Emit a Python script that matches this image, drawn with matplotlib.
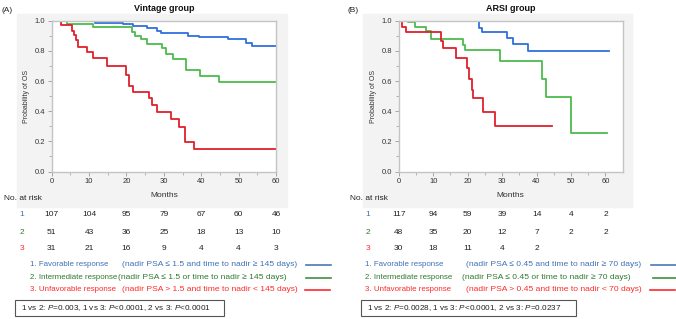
import matplotlib
matplotlib.use("Agg")
import matplotlib.pyplot as plt
from matplotlib.patches import Rectangle
from matplotlib.lines import Line2D
from matplotlib.transforms import blended_transform_factory

plt.rcParams["font.family"] = ["Liberation Sans", "DejaVu Sans"]
plt.rcParams["mathtext.fontset"] = "custom"
plt.rcParams["mathtext.rm"] = "Liberation Sans"
plt.rcParams["mathtext.it"] = "Liberation Sans:italic"

# ---- Kaplan-Meier step data ----
blue_A_t = [0, 8.5, 11.6, 19.2, 21.8, 25.4, 28.1, 29.2, 36.4, 39.5, 47.2, 52.0, 53.6, 60]
blue_A_s = [1.0, 0.995, 0.987, 0.976, 0.965, 0.95, 0.93, 0.916, 0.90, 0.89, 0.876, 0.85, 0.832, 0.832]
green_A_t = [0, 4.0, 11.0, 21.4, 22.2, 23.8, 25.4, 29.4, 30.7, 32.5, 35.8, 39.8, 44.8, 60]
green_A_s = [1.0, 0.98, 0.956, 0.927, 0.898, 0.876, 0.843, 0.816, 0.776, 0.744, 0.673, 0.633, 0.595, 0.595]
red_A_t = [0, 2.5, 5.3, 6.0, 6.5, 7.1, 9.4, 11.0, 14.9, 19.8, 20.8, 21.7, 26.0, 26.7, 28.1, 31.9, 34.0, 35.6, 38.0, 60]
red_A_s = [1.0, 0.97, 0.934, 0.905, 0.872, 0.828, 0.79, 0.75, 0.70, 0.64, 0.57, 0.53, 0.486, 0.442, 0.393, 0.347, 0.298, 0.198, 0.149, 0.149]

blue_B_t = [0, 16.4, 23.4, 24.2, 31.5, 33.1, 37.4, 60.9]
blue_B_s = [1.0, 0.995, 0.95, 0.923, 0.887, 0.848, 0.801, 0.801]
green_B_t = [0, 2.6, 4.8, 7.9, 9.4, 18.6, 19.3, 29.5, 41.5, 42.6, 50.0, 60.4]
green_B_s = [1.0, 0.99, 0.955, 0.932, 0.879, 0.84, 0.804, 0.733, 0.613, 0.494, 0.252, 0.252]
red_B_t = [0, 1.0, 2.1, 12.3, 12.8, 16.6, 19.7, 20.3, 21.2, 21.7, 24.4, 27.8, 44.4]
red_B_s = [1.0, 0.955, 0.923, 0.868, 0.817, 0.75, 0.685, 0.614, 0.541, 0.486, 0.397, 0.30, 0.30]

# ---- number at risk ----
risk_months = [0, 10, 20, 30, 40, 50, 60]
risk_A = [[107, 104, 95, 79, 67, 60, 46],
          [51, 43, 36, 25, 18, 13, 10],
          [31, 21, 16, 9, 4, 4, 3]]
risk_B = [[117, 94, 59, 39, 14, 4, 2],
          [48, 35, 20, 12, 7, 2, 2],
          [30, 18, 11, 4, 2]]

legend_A = [("1. Favorable response", "(nadir PSA \u2264 1.5 and time to nadir \u2265 145 days)"),
            ("2. Intermediate response", "(nadir PSA \u2264 1.5 or time to nadir \u2265 145 days)"),
            ("3. Unfavorable response", "(nadir PSA > 1.5 and time to nadir < 145 days)")]
legend_B = [("1. Favorable response", "(nadir PSA \u2264 0.45 and time to nadir \u2265 70 days)"),
            ("2. Intermediate response", "(nadir PSA \u2264 0.45 or time to nadir \u2265 70 days)"),
            ("3. Unfavorable response", "(nadir PSA > 0.45 and time to nadir < 70 days)")]
pval_A = "1 vs 2: $P$=0.003, 1 vs 3: $P$<0.0001, 2 vs 3: $P$<0.0001"
pval_B = "1 vs 2: $P$=0.0028, 1 vs 3: $P$<0.0001, 2 vs 3: $P$=0.0237"

curve_colors = ["#2f6fdc", "#4cbc4c", "#e0202c"]
text_colors = ["#3f72b5", "#2f7a2f", "#ff2a2a"]
leg_line_colors = ["#4a78b8", "#3f8f3f", "#ff2a2a"]

W, H = 676, 319
fig = plt.figure(figsize=(W / 100, H / 100), dpi=100)


def fx(px):
    return px / W


def fy(py):
    return 1 - py / H


def panel(label, title, ax_left, ax_right, xmax, bg, curves, risk, legend, pval,
          lab_x, rows_x, row_lab_x, leg_x, paren_x, line_x, box):
    # gray backdrop behind the plot
    fig.patches.append(Rectangle((fx(bg[0]), fy(207)), fx(bg[1] - bg[0]), (207 - 14) / H,
                                 transform=fig.transFigure, color="#f3f3f3", zorder=-5))
    ax = fig.add_axes([fx(ax_left), fy(171.5), fx(ax_right - ax_left), (171.5 - 20.7) / H])
    ax.set_zorder(2)
    ax.set_facecolor("white")
    for (t, s), c in zip(curves, curve_colors):
        ax.step(t, s, where="post", color=c, lw=1.3)
    ax.set_xlim(0, xmax)
    ax.set_ylim(0, 1.0)
    ax.set_xticks(range(0, 61, 10))
    ax.set_xticks(range(0, 61, 5), minor=True)
    ax.set_yticks([0, 0.2, 0.4, 0.6, 0.8, 1.0])
    ax.set_yticks([0.1, 0.3, 0.5, 0.7, 0.9], minor=True)
    ax.set_yticklabels(["0.0", "0.2", "0.4", "0.6", "0.8", "1.0"])
    ax.tick_params(labelsize=5.5, colors="#999999", labelcolor="#333333", length=3, width=0.6, pad=2)
    ax.tick_params(which="minor", length=2, width=0.5, colors="#999999")
    for sp in ax.spines.values():
        sp.set_color("#c4c4c4")
        sp.set_linewidth(1.0)
    ax.set_xlabel("Months", fontsize=6, color="#333333", labelpad=5)
    ax.set_ylabel("Probability of OS", fontsize=5, color="#333333", labelpad=3)
    ax.set_title(title, fontsize=6.5, fontweight="bold", pad=7, color="#111111")
    fig.text(fx(lab_x), fy(10), label, fontsize=6, va="center", color="#222222")

    # number at risk table
    fig.text(fx(rows_x), fy(199), "No. at risk", fontsize=6, va="center", color="#222222")
    tr = blended_transform_factory(ax.transData, fig.transFigure)
    row_y = [214, 232, 249]
    for i, vals in enumerate(risk):
        fig.text(fx(row_lab_x), fy(row_y[i]), str(i + 1), fontsize=6, va="center",
                 ha="center", color=text_colors[i])
        for m, v in zip(risk_months, vals):
            ax.text(m, fy(row_y[i]), str(v), transform=tr, fontsize=6, ha="center",
                    va="center", color="#222222", clip_on=False)

    # legend lines
    leg_y = [265, 277.5, 289.5]
    for i, (name, cond) in enumerate(legend):
        px = paren_x - 3.5 if i == 1 else paren_x
        fig.text(fx(leg_x), fy(leg_y[i]), name, fontsize=5.7, va="center", color=text_colors[i])
        fig.text(fx(px), fy(leg_y[i]), cond, fontsize=6.1, va="center", color=text_colors[i])
        fig.add_artist(Line2D([fx(line_x[i]), fx(line_x[i] + 25)], [fy(leg_y[i]), fy(leg_y[i])],
                              transform=fig.transFigure, color=leg_line_colors[i], lw=1.2))

    # p-value box
    fig.patches.append(Rectangle((fx(box[0]), fy(316)), fx(box[1] - box[0]), 16.5 / H,
                                 transform=fig.transFigure, fill=False, ec="#555555", lw=0.8))
    fig.text(fx(box[0] + 6), fy(308), pval, fontsize=5.9, va="center", color="#222222")
    return ax


panel("(A)", "Vintage group", 51.7, 276, 60, (17, 287),
      [(blue_A_t, blue_A_s), (green_A_t, green_A_s), (red_A_t, red_A_s)],
      risk_A, legend_A, pval_A,
      lab_x=2, rows_x=4, row_lab_x=22, leg_x=30.5, paren_x=121.5,
      line_x=[306, 306, 305], box=(15, 224))

panel("(B)", "ARSI group", 398.7, 622.7, 65, (363, 632),
      [(blue_B_t, blue_B_s), (green_B_t, green_B_s), (red_B_t, red_B_s)],
      risk_B, legend_B, pval_B,
      lab_x=347, rows_x=350, row_lab_x=367.5, leg_x=365, paren_x=466,
      line_x=[651, 652.5, 650], box=(360.7, 576))

fig.savefig("out.png", dpi=100)
